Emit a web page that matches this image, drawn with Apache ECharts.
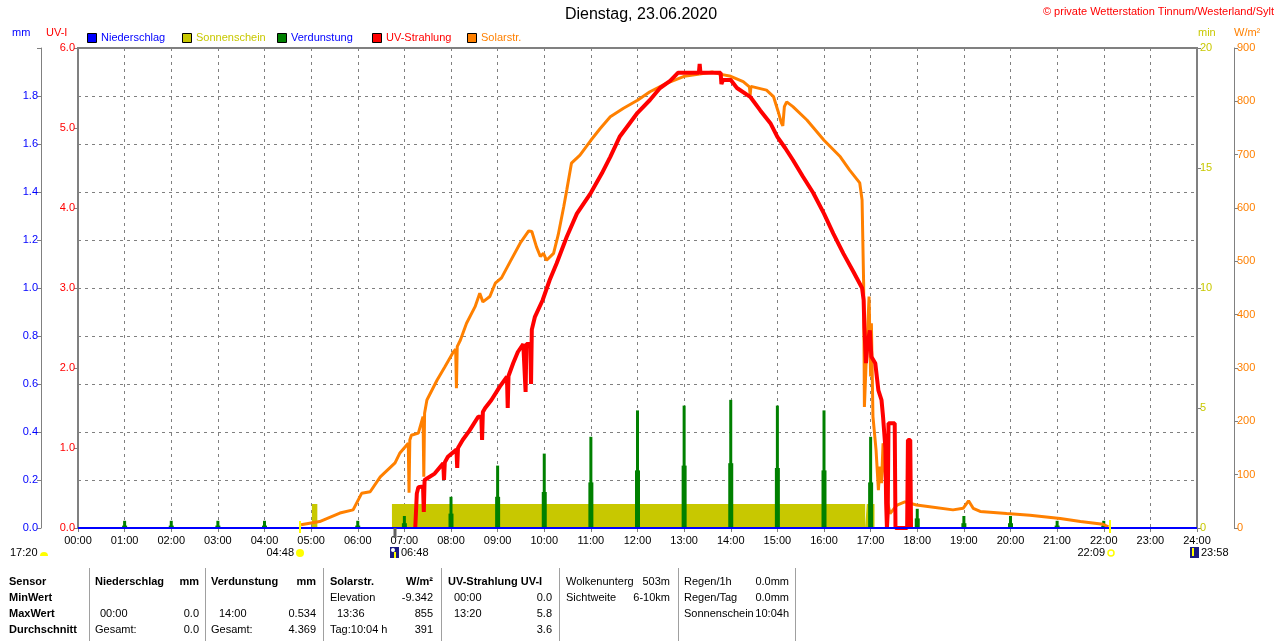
<!DOCTYPE html>
<html>
<head>
<meta charset="utf-8">
<script src="https://cdn.jsdelivr.net/npm/echarts@6/dist/echarts.min.js"></script>
<style>
body { margin: 0; background: #fff; }
#chart { width: 1280px; height: 641px; }
</style>
</head>
<body>
<div id="chart"></div>
<script>
// Solarstrahlung W/m2
var solarT = ["04:47","05:11","05:37","05:54","06:05","06:16","06:29","06:48","06:54","07:05","07:06","07:07","07:09","07:18","07:24","07:25","07:26","07:29","07:42","07:52","08:03","08:06","08:07","08:08","08:12","08:20","08:31","08:37","08:41","08:50","08:57","09:05","09:16","09:29","09:40","09:44","09:50","09:55","09:59","10:03","10:12","10:18","10:25","10:29","10:35","10:46","11:00","11:12","11:25","11:42","12:00","12:16","12:38","13:00","13:20","13:36","13:46","14:00","14:16","14:24","14:25","14:26","14:46","14:55","15:01","15:05","15:07","15:09","15:12","15:20","15:38","16:00","16:21","16:33","16:46","16:49","16:51","16:52","16:54","16:58","17:00","17:01","17:03","17:07","17:10","17:12","17:14","17:16","17:21","17:25","17:34","17:44","17:59","18:16","18:46","18:59","19:06","19:12","19:21","19:55","20:25","21:04","21:30","21:59","22:06"];
var solarV = [6,12,28,34,65,68,96,122,140,159,66,165,174,178,209,96,215,240,277,302,330,335,262,340,352,384,415,440,424,434,459,469,499,534,557,556,527,509,515,502,515,550,602,634,684,699,727,749,771,787,802,818,834,847,851,855,851,847,837,827,812,828,821,809,781,760,754,790,799,790,765,727,696,671,647,615,459,227,302,434,284,384,209,146,71,115,84,159,52,27,43,49,43,40,34,37,51,37,31,27,24,18,12,7,2];

// UV-Strahlung UV-I
var uvT = ["07:14","07:16","07:18","07:24","07:25","07:26","07:39","07:50","07:51","07:52","07:56","08:07","08:08","08:09","08:15","08:24","08:35","08:39","08:40","08:41","08:44","08:52","09:03","09:12","09:13","09:14","09:20","09:26","09:33","09:36","09:37","09:42","09:43","09:44","09:48","09:58","10:07","10:16","10:29","10:42","11:00","11:14","11:25","11:37","11:50","12:00","12:16","12:29","12:42","12:52","13:19","13:20","13:21","13:47","13:48","13:50","14:00","14:08","14:25","14:38","14:51","15:00","15:10","15:20","15:33","15:46","16:00","16:12","16:25","16:38","16:49","16:51","16:52","16:54","16:56","16:59","17:01","17:06","17:10","17:14","17:16","17:19","17:20","17:21","17:22","17:23","17:31","17:32","17:47","17:48","17:51","17:52"];
var uvV = [0,0.43,0.51,0.52,0.2,0.6,0.68,0.81,0.6,0.82,0.89,0.98,0.75,1.0,1.1,1.22,1.39,1.39,1.1,1.45,1.5,1.6,1.77,1.89,1.5,1.9,2.06,2.2,2.3,1.7,2.3,2.3,1.8,2.48,2.64,2.85,3.1,3.31,3.64,3.93,4.19,4.43,4.64,4.89,5.06,5.19,5.35,5.5,5.59,5.69,5.69,5.8,5.69,5.69,5.55,5.6,5.6,5.5,5.39,5.22,5.06,4.89,4.75,4.6,4.39,4.19,3.93,3.68,3.43,3.2,3.0,2.85,2.5,2.06,2.3,2.47,2.14,2.06,1.72,1.6,1.39,1.0,0.3,0,0.19,1.31,1.31,0,0,1.1,1.1,0];

// Verdunstung mm (Stundenwerte)
var evapHour = [1,2,3,4,6,7,8,9,10,11,12,13,14,15,16,17,18,19,20,21,22];
var evapPeak = [0.03,0.03,0.03,0.03,0.03,0.05,0.13,0.26,0.31,0.38,0.49,0.51,0.534,0.51,0.49,0.38,0.08,0.05,0.05,0.03,0.03];
var evapBase = [0.01,0.01,0.01,0.01,0.01,0.02,0.06,0.13,0.15,0.19,0.24,0.26,0.27,0.25,0.24,0.19,0.04,0.02,0.02,0.01,0.01];

// Niederschlag mm
var rainHour = [0,3,6,9,12,15,18,21,24];
var rainV = [0,0,0,0,0,0,0,0,0];

// Sonnenschein min (Intervalle)
var sunStart = ["05:01","06:44","16:55"];
var sunEnd = ["05:08","16:53","17:05"];
var sunV = [1,1,1];

function hm(s) {
	var p = s.split(":");
	return +p[0] + p[1] / 60;
}
function pad(n) {
	return (n < 10 ? "0" : "") + n;
}

var solarData = [], uvData = [], evapData = [], rainData = [], sunData = [];
for (var i = 0; i < solarT.length; i++) solarData.push([hm(solarT[i]), solarV[i]]);
for (var i = 0; i < uvT.length; i++) uvData.push([hm(uvT[i]), uvV[i]]);
for (var i = 0; i < evapHour.length; i++) evapData.push([evapHour[i], evapPeak[i], evapBase[i]]);
for (var i = 0; i < rainHour.length; i++) rainData.push([rainHour[i], rainV[i]]);
for (var i = 0; i < sunStart.length; i++) {
	var s = hm(sunStart[i]), e = hm(sunEnd[i]);
	sunData.push([s, 0], [s, sunV[i]], [e, sunV[i]], [e, 0]);
}

var FONT = "Liberation Sans, Arial, sans-serif";
var GRAY = "#808080";
var YEL = "#C8C800";

var g = [];
function txt(x, y, s, color, align, bold, size) {
	g.push({
		type: "text", x: x, y: y, z: 10,
		style: {
			text: s, fill: color || "#000", align: align || "left", verticalAlign: "middle",
			font: (bold ? "bold " : "") + (size || 11) + "px " + FONT
		}
	});
}
function box(x, y, w, h, fill, stroke) {
	g.push({ type: "rect", z: 10, shape: { x: x, y: y, width: w, height: h }, style: { fill: fill, stroke: stroke || null, lineWidth: 1 } });
}
function vline(x, y1, y2, color, w) {
	g.push({ type: "line", z: 10, shape: { x1: x, y1: y1, x2: x, y2: y2 }, style: { stroke: color, lineWidth: w || 1 } });
}

// Kopf
txt(641, 15, "Dienstag, 23.06.2020", "#000", "center", false, 16);
txt(1274, 12, "© private Wetterstation Tinnum/Westerland/Sylt", "#FF0000", "right");
txt(12, 33, "mm", "#0000FF");
txt(46, 33, "UV-I", "#FF0000");
txt(1198, 33, "min", YEL);
txt(1234, 33, "W/m²", "#FF8000");

// Legende
var legNames = ["Niederschlag", "Sonnenschein", "Verdunstung", "UV-Strahlung", "Solarstr."];
var legFill = ["#0000FF", YEL, "#008000", "#FF0000", "#FF8000"];
var legText = ["#0000FF", YEL, "#0000FF", "#FF0000", "#FF8000"];
var legX = [87, 182, 277, 372, 467];
for (var i = 0; i < legNames.length; i++) {
	box(legX[i] + 0.5, 33.5, 9, 9, legFill[i], "#000");
	txt(legX[i] + 14, 38, legNames[i], legText[i]);
}

// Sonnen- und Mondzeiten
txt(10, 553, "17:20", "#000");
g.push({ type: "sector", z: 10, shape: { cx: 44, cy: 556, r: 4, startAngle: Math.PI, endAngle: 2 * Math.PI }, style: { fill: "#FFFF00" } });
txt(294, 553, "04:48", "#000", "right");
g.push({ type: "circle", z: 10, shape: { cx: 300, cy: 553, r: 4 }, style: { fill: "#FFFF00" } });
vline(300, 521, 533, "#FFFF00", 2);
box(390, 547, 9, 11, "#1A1A80");
g.push({ type: "circle", z: 11, shape: { cx: 393, cy: 550, r: 2 }, style: { fill: "#fff" } });
vline(395, 552, 558, "#FFFF00", 2);
txt(401, 553, "06:48", "#000");
vline(395, 528, 538, "#606060", 3);
txt(1105, 553, "22:09", "#000", "right");
g.push({ type: "circle", z: 10, shape: { cx: 1111, cy: 553, r: 3 }, style: { fill: "none", stroke: "#FFFF00", lineWidth: 1.5 } });
vline(1110, 520, 533, "#FFFF00", 2);
box(1190, 547, 9, 11, "#1A1A80");
vline(1193, 548, 556, "#FFFF00", 2);
txt(1201, 553, "23:58", "#000");

// Tabelle
var sep = [89, 205, 323, 441, 559, 678, 795];
for (var i = 0; i < sep.length; i++) vline(sep[i] + 0.5, 568, 641, "#A0A0A0", 1);
var ry = [582, 598, 614, 630];
txt(9, ry[0], "Sensor", "#000", "left", true);
txt(9, ry[1], "MinWert", "#000", "left", true);
txt(9, ry[2], "MaxWert", "#000", "left", true);
txt(9, ry[3], "Durchschnitt", "#000", "left", true);
txt(95, ry[0], "Niederschlag", "#000", "left", true);
txt(199, ry[0], "mm", "#000", "right", true);
txt(100, ry[2], "00:00");
txt(199, ry[2], "0.0", "#000", "right");
txt(95, ry[3], "Gesamt:");
txt(199, ry[3], "0.0", "#000", "right");
txt(211, ry[0], "Verdunstung", "#000", "left", true);
txt(316, ry[0], "mm", "#000", "right", true);
txt(219, ry[2], "14:00");
txt(316, ry[2], "0.534", "#000", "right");
txt(211, ry[3], "Gesamt:");
txt(316, ry[3], "4.369", "#000", "right");
txt(330, ry[0], "Solarstr.", "#000", "left", true);
txt(433, ry[0], "W/m²", "#000", "right", true);
txt(330, ry[1], "Elevation");
txt(433, ry[1], "-9.342", "#000", "right");
txt(337, ry[2], "13:36");
txt(433, ry[2], "855", "#000", "right");
txt(330, ry[3], "Tag:10:04 h");
txt(433, ry[3], "391", "#000", "right");
txt(448, ry[0], "UV-Strahlung UV-I", "#000", "left", true);
txt(454, ry[1], "00:00");
txt(552, ry[1], "0.0", "#000", "right");
txt(454, ry[2], "13:20");
txt(552, ry[2], "5.8", "#000", "right");
txt(552, ry[3], "3.6", "#000", "right");
txt(566, ry[0], "Wolkenunterg");
txt(670, ry[0], "503m", "#000", "right");
txt(566, ry[1], "Sichtweite");
txt(670, ry[1], "6-10km", "#000", "right");
txt(684, ry[0], "Regen/1h");
txt(789, ry[0], "0.0mm", "#000", "right");
txt(684, ry[1], "Regen/Tag");
txt(789, ry[1], "0.0mm", "#000", "right");
txt(684, ry[2], "Sonnenschein");
txt(789, ry[2], "10:04h", "#000", "right");

var chart = echarts.init(document.getElementById("chart"));
var option = {
	animation: false,
	backgroundColor: "#fff",
	textStyle: { fontFamily: FONT },
	grid: { left: 78, right: 83, top: 48, bottom: 113, show: true, borderColor: GRAY, borderWidth: 2, backgroundColor: "#fff" },
	xAxis: {
		type: "value", min: 0, max: 24, interval: 1,
		axisLine: { show: true, lineStyle: { color: GRAY, width: 2 } },
		axisTick: { show: true, length: 4, lineStyle: { color: GRAY } },
		axisLabel: { color: "#000", fontSize: 11, margin: 7, formatter: function(v) { return pad(v) + ":00"; } },
		splitLine: { show: true, lineStyle: { color: GRAY, type: [3, 4], width: 1 } }
	},
	yAxis: [{
		type: "value", position: "left", min: 0, max: 6, interval: 1,
		axisLine: { show: true, lineStyle: { color: GRAY, width: 2 } },
		axisTick: { show: true, length: 4, lineStyle: { color: GRAY } },
		axisLabel: { color: "#FF0000", fontSize: 11, margin: 3, formatter: function(v) { return v.toFixed(1); } },
		splitLine: { show: false }
	}, {
		type: "value", position: "left", offset: 37, min: 0, max: 2, interval: 0.2,
		axisLine: { show: true, lineStyle: { color: GRAY, width: 1 } },
		axisTick: { show: true, length: 4, lineStyle: { color: GRAY } },
		axisLabel: { color: "#0000FF", fontSize: 11, margin: 3, formatter: function(v) { return v > 1.95 ? "" : v.toFixed(1); } },
		splitLine: { show: true, lineStyle: { color: GRAY, type: [3, 4], width: 1 } }
	}, {
		type: "value", position: "right", min: 0, max: 20, interval: 5,
		axisLine: { show: true, lineStyle: { color: GRAY, width: 2 } },
		axisTick: { show: true, length: 4, lineStyle: { color: GRAY } },
		axisLabel: { color: YEL, fontSize: 11, margin: 3 },
		splitLine: { show: false }
	}, {
		type: "value", position: "right", offset: 37, min: 0, max: 900, interval: 100,
		axisLine: { show: true, lineStyle: { color: GRAY, width: 1 } },
		axisTick: { show: true, length: 4, lineStyle: { color: GRAY } },
		axisLabel: { color: "#FF8000", fontSize: 11, margin: 3 },
		splitLine: { show: false }
	}],
	graphic: g,
	series: [{
		name: "Sonnenschein", type: "line", yAxisIndex: 2, data: sunData, symbol: "none", z: 1,
		lineStyle: { width: 0, color: YEL }, areaStyle: { color: YEL, opacity: 1 }
	}, {
		name: "Verdunstung", type: "custom", yAxisIndex: 1, data: evapData, z: 2,
		renderItem: function(params, api) {
			var h = api.value(0);
			var p0 = api.coord([h, 0]);
			var p1 = api.coord([h, api.value(1)]);
			var p2 = api.coord([h, api.value(2)]);
			return {
				type: "group",
				children: [
					{ type: "rect", shape: { x: p0[0] - 2.5, y: p2[1], width: 5, height: p0[1] - p2[1] }, style: { fill: "#008000" } },
					{ type: "rect", shape: { x: p0[0] - 1.5, y: p1[1], width: 3, height: p0[1] - p1[1] }, style: { fill: "#008000" } }
				]
			};
		}
	}, {
		name: "Solarstr.", type: "line", yAxisIndex: 3, data: solarData, symbol: "none", z: 3,
		lineStyle: { color: "#FF8000", width: 3 }
	}, {
		name: "UV-Strahlung", type: "line", yAxisIndex: 0, data: uvData, symbol: "none", z: 4,
		lineStyle: { color: "#FF0000", width: 4 }
	}, {
		name: "Niederschlag", type: "line", yAxisIndex: 1, data: rainData, symbol: "none", z: 5,
		lineStyle: { color: "#0000FF", width: 2 }
	}]
};
chart.setOption(option);
</script>
</body>
</html>
